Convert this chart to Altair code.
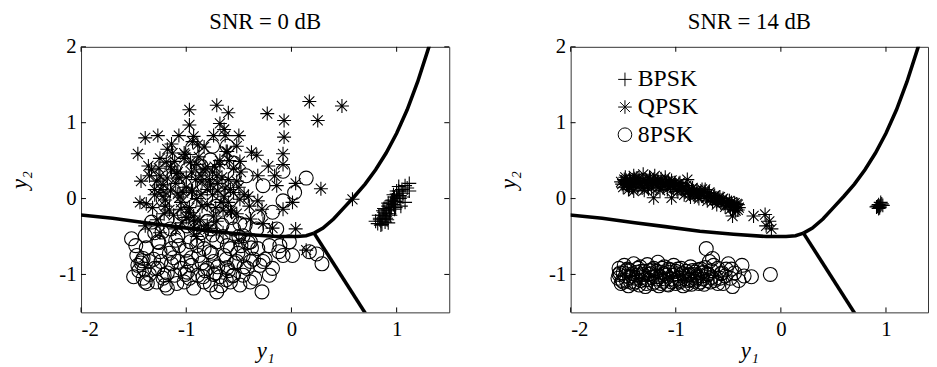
import altair as alt
import pandas as pd

# ---------------- data ----------------
# Left panel: SNR = 0 dB
l_qpsk_x = [-0.97,-0.71,-0.60,-0.23,0.17,0.48,-0.07,0.25,-0.97,-0.68,
            -1.39,-1.27,-1.14,-1.07,-0.93,-0.74,-0.63,-0.50,-0.07,-0.64,
            -1.46,-0.94,-0.89,-0.52,-0.38,-0.33,-0.08,-1.25,-1.11,-1.36,
            -1.33,-1.14,-1.02,-0.68,-0.49,-0.22,-0.08,-0.16,-1.43,-1.28,
            -1.18,-1.07,-0.86,-0.71,-0.52,-0.32,-0.14,0.04,0.28,-1.44,
            -1.38,-1.22,-1.08,-0.94,-0.80,-0.64,-0.49,-0.41,-0.32,-0.28,
            -0.08,0.01,-1.39,-1.21,-1.05,-0.93,-0.74,-0.58,-0.39,-0.27,
            -0.18,0.04,0.14,0.58,-1.00,-0.90,-1.15,-0.75,-0.85,-1.00,
            -0.60,-0.70,-1.20,-0.95,-0.55,-1.30,-0.40,-0.80,-0.65,-1.10,
            -0.90,-0.50,-1.25,
            -1.30,-1.25,-1.20,-1.15,-1.10,-1.05,-1.00,-0.95,-0.90,-0.85,
            -0.80,-0.75,-0.70,-0.65,-0.60,-0.55,-0.50,-0.45,-1.22,-1.12,
            -1.02,-0.92,-0.82,-0.72,-0.62,-0.52,-1.18,-1.08,-0.98,-0.88,
            -0.78,-0.68,-1.35,-0.58,-0.48,-1.28,-1.06,-0.86,-0.66,-0.96,
            -1.24,-1.16,-1.09,-1.03,-0.97,-0.91,-0.84,-0.77,-0.71,-0.63,
            -0.57,-1.32,-1.19,-1.01,-0.87,-0.73,-0.59,-1.13,-0.93,-0.79,
            -1.26,-0.67,-1.04,-0.83,-0.61]
l_qpsk_y = [1.17,1.23,1.13,1.12,1.28,1.22,1.03,1.03,0.97,0.99,
            0.80,0.83,0.72,0.83,0.82,0.83,0.83,0.83,0.81,0.91,
            0.59,0.75,0.71,0.69,0.61,0.57,0.59,0.53,0.49,0.43,
            0.38,0.38,0.53,0.45,0.49,0.43,0.45,0.30,0.23,0.23,
            0.27,0.27,0.30,0.30,0.23,0.30,0.17,0.20,0.13,-0.05,
            -0.07,0.03,0.06,0.10,0.12,0.03,-0.01,0.03,-0.03,-0.14,
            -0.14,-0.05,-0.36,-0.20,-0.14,-0.23,-0.23,-0.16,-0.27,-0.33,
            -0.39,-0.40,-0.68,-0.01,0.15,0.00,0.10,0.05,-0.10,-0.25,
            -0.05,0.20,-0.10,0.35,0.40,0.12,-0.10,-0.35,-0.45,-0.40,
            -0.50,-0.55,-0.45,
            0.05,0.30,-0.02,0.42,0.20,-0.05,0.28,0.10,0.45,0.22,
            -0.08,0.35,0.10,-0.15,0.25,0.08,0.15,0.05,0.18,-0.22,
            0.60,-0.30,0.40,-0.12,0.62,-0.20,0.65,0.35,-0.18,0.55,
            0.25,0.50,0.30,0.12,0.35,-0.28,0.02,0.05,0.28,0.48,
            0.12,-0.15,0.33,0.08,-0.12,0.25,0.38,0.18,-0.30,0.14,
            -0.18,-0.12,0.48,0.58,-0.28,0.42,0.50,0.60,-0.38,-0.40,
            0.40,-0.05,-0.32,0.68,0.62]

l_8psk_x = [-0.94,-0.75,-0.61,-0.86,-0.08,0.14,0.03,-0.08,-0.18,-0.32,
            -1.22,-1.52,-1.47,-1.50,-1.41,-1.46,-1.35,-1.28,-1.21,-1.24,
            -1.11,-1.02,-0.99,-0.89,-0.83,-0.71,-0.68,-0.58,-0.49,-0.46,
            -0.39,-0.28,-0.21,-0.27,-0.39,-0.32,-0.21,-0.08,0.01,0.17,
            0.29,0.24,-1.39,-1.27,-1.14,-1.08,-0.96,-0.83,-0.71,-0.58,
            -0.52,-0.74,-1.08,-1.18,-0.93,-0.61,-1.27,-0.46,-0.33,-0.55,
            -0.77,-0.99,-1.18,-1.33,-0.93,-0.71,-0.58,-1.08,-0.83,-0.43,
            -0.27,-0.99,-0.55,-0.77,-1.24,-0.14,-0.02,-1.41,-0.99,-0.80,
            -0.18,-0.39,-0.64,-0.46,-0.11,-1.39,-0.77,-0.55,
            -1.45,-1.38,-1.30,-1.25,-1.18,-1.12,-1.05,-1.00,-0.95,-0.88,
            -0.82,-0.76,-0.70,-0.65,-0.60,-0.54,-0.48,-0.42,-0.36,-0.30,
            -1.35,-1.22,-1.10,-0.97,-0.86,-0.74,-0.62,-0.50,-0.38,-1.42,
            -1.15,-0.90,-0.66,-0.44,-1.30,-1.02,-0.80,-0.57,-0.25,-0.12,
            -1.48,-1.43,-1.37,-1.31,-1.26,-1.20,-1.14,-1.07,-1.01,-0.95,
            -0.89,-0.84,-0.78,-0.72,-0.67,-0.61,-0.56,-0.51,-0.45,-0.41,
            -0.35,-1.40,-1.23,-1.09,-0.92,-0.75,-0.62,-0.49,-1.16,-0.85]
l_8psk_y = [0.67,0.69,0.69,0.43,0.36,0.27,0.08,-0.03,-0.18,-0.25,
            -0.01,-0.53,-0.75,-1.03,-1.05,-0.88,-0.83,-1.10,-1.01,-0.83,
            -1.01,-1.10,-0.83,-1.01,-1.10,-1.23,-1.03,-1.10,-1.14,-1.01,
            -1.10,-1.23,-1.01,-0.83,-0.83,-0.66,-0.62,-0.75,-0.75,-0.70,
            -0.86,-0.73,-0.49,-0.57,-0.66,-0.49,-0.57,-0.66,-0.57,-0.66,
            -0.83,-0.83,-0.83,-1.18,-1.18,-0.91,-0.92,-0.49,-0.40,-0.40,
            -0.40,-0.36,-0.27,-0.31,-0.10,-0.10,-0.01,0.17,0.17,0.30,
            0.17,0.38,0.47,0.51,0.17,-0.40,-0.57,-0.79,-0.97,-0.92,
            -0.92,-0.57,-0.75,-0.75,-0.62,-1.10,-1.14,-1.01,
            -0.95,-0.65,-0.92,-0.70,-0.98,-0.78,-0.92,-0.68,-0.88,-0.75,
            -0.95,-0.72,-0.90,-0.50,-0.95,-0.85,-0.62,-0.92,-0.80,-0.88,
            -1.00,-1.05,-0.55,-1.05,-0.45,-1.00,-0.80,-0.50,-0.65,-0.82,
            -0.40,-0.62,-0.35,-0.35,-0.45,-0.20,-0.30,-0.25,-0.80,-0.70,
            -0.62,-0.85,-1.12,-0.80,-0.58,-1.14,-0.86,-0.62,-1.00,-0.78,
            -0.55,-1.03,-0.70,-0.98,-1.15,-0.62,-1.02,-0.72,-0.90,-0.58,
            -1.05,-0.93,-0.44,-1.12,-0.38,-0.48,-1.07,-0.33,-0.72,-0.85]

l_bpsk_x = [0.80,0.82,0.84,0.85,0.86,0.87,0.88,0.89,0.90,0.90,
            0.91,0.92,0.93,0.94,0.95,0.96,0.97,0.98,0.99,1.00,
            1.01,1.02,1.03,1.05,1.06,1.08,1.10,1.12,1.08,0.86,
            1.12,1.04,0.92,
            0.83,0.85,0.88,0.90,0.93,0.95,0.98,1.00,1.03,0.87,
            0.92,0.97,1.02,0.89,0.94,0.99,1.06,0.84]
l_bpsk_y = [-0.30,-0.33,-0.26,-0.30,-0.22,-0.27,-0.18,-0.24,-0.14,-0.20,
            -0.28,-0.10,-0.16,-0.06,-0.12,-0.02,-0.08,0.02,-0.04,0.06,
            0.00,0.10,0.04,0.12,0.07,0.17,0.14,0.10,-0.05,-0.34,
            0.20,-0.10,-0.32,
            -0.22,-0.35,-0.13,-0.26,-0.20,-0.03,-0.14,0.10,0.00,-0.16,
            -0.06,0.05,0.16,-0.31,-0.22,-0.12,0.02,-0.28]

# Right panel: SNR = 14 dB
r_qpsk_x = [-1.52,-1.50,-1.48,-1.47,-1.45,-1.44,-1.42,-1.40,-1.40,-1.38,
            -1.36,-1.35,-1.33,-1.31,-1.30,-1.28,-1.27,-1.25,-1.23,-1.22,
            -1.21,-1.20,-1.18,-1.17,-1.15,-1.13,-1.12,-1.10,-1.08,-1.06,
            -1.04,-1.04,-1.02,-1.00,-0.98,-0.96,-0.94,-0.92,-0.90,-0.89,
            -0.88,-0.86,-0.84,-0.82,-0.80,-0.78,-0.76,-0.74,-0.72,-0.70,
            -0.69,-0.67,-0.65,-0.63,-0.61,-0.59,-0.57,-0.55,-0.53,-0.52,
            -0.50,-0.48,-0.47,-0.46,-0.45,-0.43,-0.42,-0.40,-0.26,-0.15,
            -0.14,-0.11,-0.09,
            -1.49,-1.46,-1.43,-1.41,-1.37,-1.34,-1.29,-1.26,-1.24,-1.19,
            -1.16,-1.14,-1.09,-1.07,-1.03,-0.99,-0.97,-0.93,-0.87,-0.83,
            -0.79,-0.75,-0.71,-0.68,-0.64,-0.60,-0.56,-0.51,-0.44,-0.41,
            -1.51,-1.47,-1.44,-1.39,-1.35,-1.32,-1.27,-1.21,-1.17,-1.11,
            -1.05,-1.01,-0.95,-0.91,-0.85,-0.81,-0.77,-0.73,-0.66,-0.62,
            -0.58,-0.54,-0.49,-0.44,-0.41]
r_qpsk_y = [0.22,0.15,0.28,0.20,0.12,0.25,0.18,0.30,0.10,0.22,
            0.15,0.27,0.19,0.32,0.11,0.24,0.17,0.28,0.14,0.21,
            0.01,0.30,0.18,0.25,0.11,0.22,0.16,0.28,0.12,0.20,
            0.01,0.24,0.14,0.18,0.09,0.21,0.13,0.05,0.17,0.25,
            0.10,0.02,0.14,0.07,0.11,0.00,0.08,0.04,0.12,-0.03,
            0.06,0.01,-0.04,0.04,-0.08,-0.02,-0.06,0.00,-0.11,-0.04,
            -0.09,-0.14,-0.05,-0.23,-0.10,-0.16,-0.07,-0.12,-0.23,-0.21,
            -0.36,-0.30,-0.40,
            0.25,0.18,0.22,0.15,0.27,0.20,0.22,0.13,0.25,0.20,
            0.15,0.26,0.18,0.23,0.17,0.12,0.20,0.15,0.06,0.10,
            0.03,0.12,0.01,0.08,0.02,0.00,-0.02,-0.07,-0.12,-0.08,
            0.19,0.24,0.16,0.26,0.21,0.14,0.20,0.24,0.21,0.19,
            0.16,0.21,0.16,0.11,0.12,0.05,0.07,0.09,0.03,0.00,
            0.02,-0.05,-0.03,-0.06,-0.15]

r_8psk_x = [-1.55,-1.54,-1.52,-1.50,-1.49,-1.47,-1.45,-1.44,-1.42,-1.40,
            -1.39,-1.37,-1.35,-1.34,-1.32,-1.30,-1.29,-1.27,-1.26,-1.24,
            -1.22,-1.21,-1.19,-1.17,-1.16,-1.14,-1.12,-1.11,-1.09,-1.07,
            -1.05,-1.04,-1.02,-1.00,-0.99,-0.97,-0.95,-0.93,-0.92,-0.90,
            -0.88,-0.86,-0.85,-0.83,-0.81,-0.79,-0.77,-0.75,-0.73,-0.71,
            -0.70,-0.68,-0.66,-0.65,-0.62,-0.60,-0.57,-0.55,-0.52,-0.50,
            -0.48,-0.46,-0.44,-0.40,-0.37,-0.35,-0.28,-0.10,
            -1.53,-1.51,-1.48,-1.46,-1.43,-1.41,-1.38,-1.36,-1.33,-1.31,
            -1.28,-1.25,-1.23,-1.20,-1.18,-1.15,-1.13,-1.10,-1.08,-1.06,
            -1.03,-1.01,-0.98,-0.96,-0.94,-0.91,-0.89,-0.87,-0.84,-0.82,
            -0.80,-0.78,-0.76,-0.74,-0.72,-0.69,-0.67,-0.64,-0.58,-0.53,
            -1.54,-1.50,-1.47,-1.44,-1.40,-1.37,-1.33,-1.29,-1.26,-1.22,
            -1.18,-1.14,-1.11,-1.07,-1.04,-1.00,-0.96,-0.93,-0.89,-0.86,
            -0.82,-0.79,-0.76,-0.73,-0.70,-0.66,-0.63,-0.60,-0.56,-0.47]
r_8psk_y = [-1.05,-0.92,-1.12,-0.98,-0.88,-1.08,-1.15,-0.95,-1.02,-0.86,
            -1.10,-0.97,-1.14,-0.90,-1.04,-0.96,-1.16,-0.87,-1.07,-0.99,
            -1.12,-0.92,-1.03,-0.84,-1.15,-0.97,-1.09,-0.90,-1.01,-1.14,
            -0.94,-1.06,-0.88,-1.12,-0.99,-1.05,-0.92,-1.15,-1.02,-0.96,
            -1.08,-0.90,-1.13,-1.00,-1.06,-0.94,-1.10,-1.02,-0.97,-0.66,
            -1.08,-0.83,-0.95,-0.79,-1.05,-1.12,-0.99,-1.12,-0.93,-0.86,
            -1.05,-1.16,-0.98,-1.08,-0.88,-1.02,-1.03,-1.00,
            -0.98,-1.08,-1.02,-0.93,-1.10,-0.99,-1.05,-0.92,-1.08,-1.00,
            -1.12,-0.95,-1.04,-1.10,-0.96,-1.03,-0.92,-1.06,-1.13,-0.97,
            -1.01,-1.08,-0.93,-1.10,-0.99,-1.06,-1.13,-1.00,-0.95,-1.09,
            -1.02,-1.12,-0.98,-1.06,-0.91,-1.00,-1.10,-0.88,-1.05,-1.02,
            -1.00,-1.10,-0.95,-1.04,-1.12,-1.01,-0.96,-1.07,-1.00,-0.94,
            -1.06,-1.12,-0.99,-0.93,-1.10,-0.96,-1.08,-0.99,-1.01,-1.07,
            -0.97,-1.04,-0.93,-1.13,-0.99,-1.04,-1.08,-0.92,-0.98,-0.93]

r_bpsk_x = [0.92,0.93,0.94,0.95,0.96,0.93,0.95,0.94,0.97,0.91]
r_bpsk_y = [-0.10,-0.08,-0.12,-0.09,-0.07,-0.13,-0.05,-0.10,-0.09,-0.11]

# decision boundaries (same for both panels)
b_left_x = [-2.05,-1.70,-1.39,-1.10,-0.77,-0.45,-0.14,0.05,0.14,0.215]
b_left_y = [-0.21,-0.26,-0.32,-0.37,-0.43,-0.47,-0.50,-0.50,-0.49,-0.455]
b_up_x = [0.215,0.30,0.40,0.50,0.60,0.70,0.80,0.90,1.00,1.10,1.20,1.30,1.32]
b_up_y = [-0.455,-0.39,-0.27,-0.12,0.03,0.19,0.38,0.60,0.86,1.17,1.54,1.97,2.06]
b_down_x = [0.215,0.72]
b_down_y = [-0.455,-1.55]

classes = ["BPSK", "QPSK", "8PSK"]
titles = ["SNR = 0 dB", "SNR = 14 dB"]
x_ticks = [-2, -1, 0, 1]
y_ticks = [-1, 0, 1, 2]
x_domain_left = [-2, 1.5]
x_domain_right = [-2, 1.40]   # right panel is cropped at the picture's edge
y_domain = [-1.5, 2]

# ---------------- styling ----------------
FONT = "Liberation Serif"
W_LEFT, W_RIGHT, H = 373, 362, 269
PLUS = "M-1,0L1,0M0,-1L0,1"
STAR = "M-1,0L1,0M0,-1L0,1M-0.72,-0.72L0.72,0.72M-0.72,0.72L0.72,-0.72"
TL = 5  # tick length


def points_df(bx, by, qx, qy, cx, cy):
    rows = []
    for k, xs, ys in (("BPSK", bx, by), ("QPSK", qx, qy), ("8PSK", cx, cy)):
        for a, b in zip(xs, ys):
            rows.append({"x": a, "y": b, "cls": k, "ord": classes.index(k)})
    return pd.DataFrame(rows)


bound_df = pd.DataFrame(
    [{"x": a, "y": b, "seg": "l", "i": i} for i, (a, b) in enumerate(zip(b_left_x, b_left_y))]
    + [{"x": a, "y": b, "seg": "u", "i": i} for i, (a, b) in enumerate(zip(b_up_x, b_up_y))]
    + [{"x": a, "y": b, "seg": "d", "i": i} for i, (a, b) in enumerate(zip(b_down_x, b_down_y))]
)

xt_df = pd.DataFrame({"v": x_ticks})
yt_df = pd.DataFrame({"v": y_ticks})

label_expr = "datum.value < 0 ? '-' + abs(datum.value) : '' + datum.value"


def panel(df, title, x_domain, W, show_legend, right_ticks):
    xs = alt.Scale(domain=x_domain, nice=False, zero=False)
    ys = alt.Scale(domain=y_domain, nice=False, zero=False)
    if show_legend:
        legend = alt.Legend(
            title=None, orient="none", legendX=43, legendY=21,
            labelFont=FONT, labelFontSize=24, labelColor="black",
            symbolStrokeColor="black", symbolFillColor="transparent",
            symbolStrokeWidth=1, symbolSize=190, labelOffset=1,
            rowPadding=4, padding=0,
        )
    else:
        legend = None
    pts = alt.Chart(df).mark_point(filled=False, color="black", strokeWidth=1.1, size=200, opacity=1).encode(
        x=alt.X("x:Q", scale=xs, axis=alt.Axis(values=x_ticks, labelExpr=label_expr, title="y₁")),
        y=alt.Y("y:Q", scale=ys, axis=alt.Axis(values=y_ticks, labelExpr=label_expr, title="y₂")),
        shape=alt.Shape("cls:N", scale=alt.Scale(domain=classes, range=[PLUS, STAR, "circle"]), legend=legend),
        order=alt.Order("ord:Q"),
    )
    lines = alt.Chart(bound_df).mark_line(color="black", strokeWidth=3.6, clip=True).encode(
        x=alt.X("x:Q", scale=xs), y=alt.Y("y:Q", scale=ys), detail="seg:N", order="i:Q"
    )
    tb = alt.Chart(xt_df).mark_rule(color="black", strokeWidth=1).encode(
        x=alt.X("v:Q", scale=xs), y=alt.value(H), y2=alt.value(H - TL))
    tt = alt.Chart(xt_df).mark_rule(color="black", strokeWidth=1).encode(
        x=alt.X("v:Q", scale=xs), y=alt.value(0), y2=alt.value(TL))
    tl = alt.Chart(yt_df).mark_rule(color="black", strokeWidth=1).encode(
        y=alt.Y("v:Q", scale=ys), x=alt.value(0), x2=alt.value(TL))
    layers = [pts, lines, tb, tt, tl]
    if right_ticks:
        layers.append(alt.Chart(yt_df).mark_rule(color="black", strokeWidth=1).encode(
            y=alt.Y("v:Q", scale=ys), x=alt.value(W), x2=alt.value(W - TL)))
    return alt.layer(*layers).properties(
        width=W, height=H,
        title=alt.TitleParams(title, font=FONT, fontSize=23, fontWeight="normal", color="black", offset=2),
    )


left = panel(points_df(l_bpsk_x, l_bpsk_y, l_qpsk_x, l_qpsk_y, l_8psk_x, l_8psk_y),
             titles[0], x_domain_left, W_LEFT, False, True)
right = panel(points_df(r_bpsk_x, r_bpsk_y, r_qpsk_x, r_qpsk_y, r_8psk_x, r_8psk_y),
              titles[1], x_domain_right, W_RIGHT, True, False)

chart = alt.hconcat(left, right, spacing=48).resolve_legend(shape="independent").resolve_scale(
    x="independent").properties(
    padding={"left": 0, "top": 0, "right": 0, "bottom": 0}
).configure_view(stroke="#333", strokeWidth=1).configure_axis(
    grid=False, ticks=False, domain=False,
    labelFont=FONT, labelFontSize=21, labelColor="black",
    titleFont=FONT, titleFontSize=23, titleFontStyle="italic", titleFontWeight="normal",
    titleColor="black",
).configure_axisX(titlePadding=1, labelPadding=6).configure_axisY(titlePadding=28, labelPadding=5)

chart.save("out.html", embed_options={"renderer": "svg", "actions": False})
